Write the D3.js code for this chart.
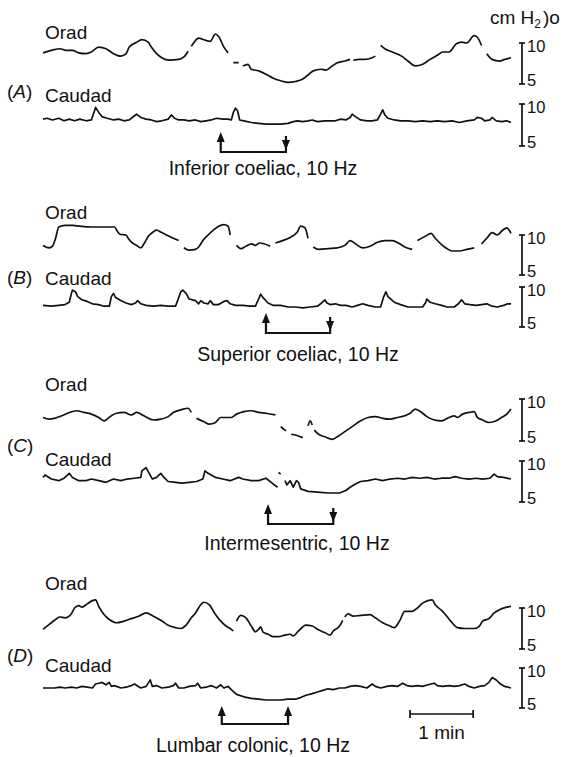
<!DOCTYPE html>
<html>
<head>
<meta charset="utf-8">
<script src="https://cdn.jsdelivr.net/npm/d3@7/dist/d3.min.js"></script>
<style>
body { margin: 0; background: #fff; }
svg text { font-family: "Liberation Sans", Arial, sans-serif; fill: #111; }
</style>
</head>
<body>
<script>
// time in s, pressure in cm H2O; null = pen gap
var aOrad = [[0,8.8],[8,9.1],[16,9.3],[22,9.1],[28,9.1],[34,8.8],[41,8.7],[46,8.9],[53,9.5],[60,9.3],[67,8.7],[74,8.4],[79,8.7],[82,9.5],[89,10.1],[94,10.4],[100,10.1],[103,9.5],[108,8.7],[113,8.2],[120,7.9],[129,8.0],[134,8.3],[138,9.0],null,[141,9.6],[145,10.3],[148,10.6],[153,10.4],[159,10.2],[164,11.1],[167,10.8],[172,9.5],[176,8.8],null,[181,7.6],[186,7.6],null,[190,7.2],[195,7.4],[198,6.8],[205,6.6],[212,6.2],[219,5.7],[226,5.4],[233,5.2],[240,5.3],[247,5.6],[252,6.1],[257,6.6],[264,6.8],[269,6.7],[275,7.2],[280,7.6],[287,7.8],[292,8.0],null,[295,7.9],[301,8.0],[306,8.0],[313,8.2],[316,8.4],null,[321,9.7],[325,9.3],[332,8.9],[341,8.4],[347,7.8],[354,7.2],[361,7.4],[368,8.0],[375,8.5],[380,8.9],[386,8.9],[393,9.9],[398,10.1],[403,10.0],[410,10.9],[413,10.7],[417,9.7],null,[422,8.7],[427,8.0],[434,7.8],[439,8.0],[445,8.2]];
var aCaudad = [[0,8.2],[4,8.3],[9,8.1],[15,8.3],[20,8.0],[25,8.2],[30,8.0],[35,8.2],[41,8.0],[46,8.1],[49,9.2],[50,9.6],[53,9.0],[56,8.5],[61,8.3],[67,8.1],[72,8.2],[77,8.0],[82,8.1],[87,8.6],[89,8.8],[93,8.4],[98,8.2],[103,8.1],[108,7.9],[113,8.0],[119,8.2],[122,8.7],[125,8.3],[129,8.1],[134,8.1],[139,8.0],[145,8.1],[150,7.9],[155,8.0],[160,8.1],[165,8.3],[171,8.2],[176,8.2],[179,8.1],[181,9.0],[183,9.5],[185,9.2],[187,8.1],[191,8.0],[198,7.8],[205,7.7],[212,7.6],[219,7.6],[226,7.6],[233,7.7],[238,7.9],[242,8.0],[247,7.9],[252,8.0],[256,8.1],[261,7.9],[268,8.0],[273,8.0],[278,8.0],[283,8.2],[288,8.1],[292,8.4],[294,8.8],[297,8.5],[302,8.1],[308,8.0],[313,8.0],[318,8.1],[321,8.8],[323,9.3],[325,8.7],[328,8.3],[334,8.1],[340,8.0],[347,8.0],[354,7.9],[361,8.0],[368,7.9],[375,8.0],[382,7.9],[389,8.0],[396,7.8],[403,8.0],[410,8.1],[413,8.4],[417,8.3],[420,8.0],[425,8.1],[427,8.4],[431,8.0],[436,7.9],[441,8.0],[445,7.8]];
var bOrad = [[0,8.7],[6,8.4],[9,8.6],[12,9.6],[15,11.0],[21,11.2],[28,11.2],[35,11.1],[46,11.0],[56,11.0],[63,11.0],[68,11.0],[71,10.4],[73,10.1],[79,10.0],[81,9.6],[84,9.1],[89,8.7],[93,8.4],[96,8.9],[100,9.8],[105,10.4],[108,10.6],[113,10.3],[119,9.9],[124,9.6],[129,9.3],null,[134,8.4],[139,8.1],[145,8.2],[148,8.5],[152,9.3],[157,10.0],[162,10.6],[167,11.1],[172,11.3],[176,11.1],[178,10.0],null,[184,8.7],[188,8.3],[193,8.6],[198,8.9],[202,8.7],[206,9.0],[210,8.9],[216,8.6],null,[221,9.0],[228,9.3],[235,9.7],[242,10.4],[245,11.1],[249,10.9],[252,9.6],null,[257,8.5],[262,8.2],[271,8.3],[280,8.4],[287,8.7],[292,9.3],[297,8.9],[304,8.4],[311,8.6],[318,9.1],[325,9.3],[332,9.3],[339,8.9],[344,8.5],[351,8.2],null,[356,9.3],[363,9.8],[369,10.2],[373,9.6],[379,8.8],[384,8.3],[389,8.0],[396,8.0],[403,8.2],[410,8.4],null,[417,8.9],[422,9.6],[427,10.3],[432,10.0],[437,10.6],[441,10.9],[445,10.2]];
var bCaudad = [[0,7.7],[8,7.6],[15,7.7],[21,7.8],[25,8.1],[27,9.2],[28,9.6],[31,9.4],[33,8.8],[37,8.4],[42,8.2],[47,7.9],[53,7.8],[58,7.6],[63,7.6],[65,8.8],[67,9.2],[69,8.7],[74,8.3],[79,8.0],[84,7.8],[88,8.0],[90,8.3],[93,7.9],[98,7.7],[105,7.6],[112,7.7],[119,7.6],[126,7.6],[128,8.3],[131,9.4],[133,9.6],[136,9.2],[139,8.5],[145,8.3],[148,7.9],[150,8.3],[153,8.0],[157,7.9],[159,8.3],[162,7.8],[167,7.8],[172,8.2],[175,8.3],[178,7.9],[183,7.7],[190,7.7],[197,7.6],[202,7.6],[205,8.5],[207,9.1],[209,8.7],[214,8.0],[219,7.7],[226,7.7],[233,7.5],[240,7.5],[247,7.4],[254,7.5],[261,7.6],[264,7.9],[268,8.4],[270,8.0],[273,7.8],[278,7.9],[283,7.7],[288,7.7],[294,7.5],[299,7.7],[304,7.9],[309,7.7],[316,7.5],[321,7.5],[324,8.8],[326,9.4],[328,8.8],[334,8.1],[340,7.8],[347,7.5],[354,7.5],[361,7.5],[364,8.1],[365,8.5],[368,8.1],[373,7.9],[379,7.7],[384,7.5],[391,7.5],[395,7.9],[398,8.4],[401,7.9],[406,7.8],[412,7.7],[417,7.8],[422,7.9],[427,7.6],[432,7.5],[438,7.7],[442,7.9],[445,7.9]];
var cOrad = [[0,7.8],[6,7.6],[11,7.7],[18,8.0],[25,8.4],[32,8.6],[39,8.4],[46,8.2],[53,7.8],[58,7.4],[61,7.6],[65,8.0],[70,8.3],[77,8.4],[84,8.1],[89,8.4],[96,8.0],[105,7.5],[112,7.6],[119,7.9],[124,8.4],[131,8.7],[138,8.9],[141,8.4],null,[146,7.7],[153,7.3],[158,7.0],[164,7.2],[169,7.8],[174,7.8],[179,7.8],[184,8.2],[191,8.5],[198,8.6],[205,8.4],[212,8.3],[221,8.1],null,[226,6.7],[231,6.2],null,[236,5.8],[243,5.6],[247,5.4],null,[252,6.8],[254,7.4],[256,6.9],null,[258,6.3],[262,5.8],[268,5.5],[275,5.2],[281,5.6],[288,6.2],[295,6.8],[302,7.4],[309,7.8],[316,7.9],[323,7.7],[330,7.6],[337,7.8],[344,8.0],[349,8.3],[354,8.8],[360,8.4],[365,7.9],[372,7.5],[379,7.4],[386,7.8],[391,8.0],[394,7.8],[399,8.2],[405,8.4],[410,8.5],[413,7.8],[418,7.5],[424,7.2],[431,7.4],[436,7.8],[441,8.2],[445,8.8]];
var cCaudad = [[0,8.0],[2,8.3],[8,7.8],[15,7.6],[20,7.9],[25,8.5],[28,8.0],[34,7.6],[41,7.6],[46,7.8],[53,7.6],[60,7.4],[67,7.8],[74,7.6],[80,7.8],[87,7.9],[93,8.0],[94,8.8],[98,9.2],[101,8.5],[104,7.8],[108,8.0],[112,8.5],[115,8.0],[119,7.5],[126,7.4],[132,7.3],[139,7.4],[146,7.5],[152,7.8],[154,8.8],[157,8.5],[164,8.0],[171,7.8],[178,7.6],[186,8.0],[190,7.8],[198,7.6],[205,7.6],[212,7.9],[217,7.4],[223,6.8],null,[224,8.6],[226,8.4],null,[230,7.6],[232,7.1],[235,7.6],[238,6.8],[241,7.6],[243,7.4],[245,6.6],[252,6.3],[261,6.2],[271,6.1],[282,6.1],[288,6.4],[292,6.8],[297,7.2],[302,7.5],[309,7.6],[316,7.8],[323,7.6],[330,7.8],[337,7.9],[344,7.8],[351,8.0],[358,7.9],[365,8.0],[372,7.8],[379,7.9],[386,7.9],[392,8.1],[398,7.9],[405,7.8],[412,7.9],[418,7.8],[425,7.9],[429,8.4],[432,8.1],[438,8.0],[445,7.8]];
var dOrad = [[0,7.4],[6,8.0],[11,8.5],[16,8.9],[21,8.8],[27,9.3],[30,10.0],[34,10.3],[37,10.1],[42,10.5],[47,10.9],[50,11.0],[53,10.2],[58,9.2],[63,8.6],[70,8.2],[77,8.4],[84,8.7],[91,9.0],[98,9.4],[105,9.0],[112,8.5],[119,7.9],[126,7.6],[131,7.5],[136,7.9],[141,8.8],[145,9.4],[150,10.4],[153,10.7],[158,10.4],[164,9.2],[169,8.4],[174,7.8],[179,7.4],[181,7.2],null,[184,8.4],[188,9.1],[193,8.8],[198,7.8],[202,7.1],[205,7.4],[207,7.7],[209,7.1],[214,6.8],[219,6.5],[224,6.5],[230,6.7],[235,6.8],[238,6.6],[243,7.2],[250,7.9],[256,7.8],[261,7.4],[268,7.0],[273,6.7],[276,7.2],[282,7.8],[285,8.5],null,[287,8.9],[290,9.3],[295,9.0],[302,9.1],[311,9.2],[316,8.8],[323,8.2],[330,7.8],[334,7.6],[339,8.4],[344,9.6],[351,9.6],[356,10.0],[361,10.6],[366,10.9],[370,11.0],[373,10.4],[379,9.7],[384,9.0],[389,8.2],[394,7.6],[401,7.5],[410,7.5],[415,7.8],[418,8.4],[424,8.7],[429,9.4],[434,9.8],[441,10.1],[445,10.2]];
var dCaudad = [[0,7.5],[6,7.5],[11,7.5],[16,7.6],[21,7.5],[27,7.6],[32,7.5],[37,7.7],[42,7.6],[47,7.5],[50,8.0],[53,8.1],[56,8.2],[60,7.9],[63,8.2],[65,7.7],[68,7.8],[74,7.5],[79,7.6],[84,7.8],[87,8.0],[93,7.5],[98,7.7],[101,8.3],[102,8.5],[104,7.7],[108,7.8],[113,7.5],[119,7.6],[124,7.8],[126,8.1],[129,7.5],[134,7.5],[139,7.7],[145,7.8],[147,8.1],[150,7.5],[155,7.6],[160,7.8],[165,7.5],[169,7.9],[172,7.5],[176,7.7],[179,7.3],[184,6.7],[191,6.4],[198,6.2],[205,6.1],[212,6.0],[219,6.0],[226,6.0],[233,6.1],[240,6.1],[245,6.3],[250,6.6],[256,6.8],[261,7.0],[266,7.2],[271,7.4],[276,7.3],[282,7.5],[287,7.5],[292,7.7],[297,7.8],[302,7.7],[308,7.5],[313,8.0],[316,7.7],[321,7.5],[327,7.7],[332,7.8],[337,7.7],[342,8.1],[346,7.8],[351,7.7],[356,7.8],[361,7.7],[366,7.9],[372,8.1],[375,7.8],[380,7.7],[386,7.8],[391,7.7],[396,7.8],[401,8.0],[405,7.7],[410,7.5],[415,7.7],[420,7.8],[424,8.2],[427,8.8],[431,8.5],[434,8.1],[439,7.7],[445,7.5]];

var panelLetters = ['A', 'B', 'C', 'D'];
var traceNames = ['Orad', 'Caudad'];
var captions = ['Inferior coeliac, 10 Hz', 'Superior coeliac, 10 Hz', 'Intermesentric, 10 Hz', 'Lumbar colonic, 10 Hz'];
var stimOn = [169, 212, 214, 170],
    stimOff = [231, 273, 276, 233],
    offArrow = ['down', 'down', 'down', 'up'];
var barTicks = [10, 5];
var minuteBar = [349, 409];

var traces = [[aOrad, aCaudad], [bOrad, bCaudad], [cOrad, cCaudad], [dOrad, dCaudad]];

var width = 572,
    height = 757,
    barX = 522,
    x = d3.scaleLinear()
    .domain([0, 445])
    .range([43, 511]),
    // y pixel of the 10 and 5 ticks for orad / caudad, and text rows
    layout = [
        {o: [43, 84], c: [104, 146], oL: 39, lL: 98, cL: 102, aT: 132, aB: 152, capY: 175, capX: 263},
        {o: [235, 275], c: [287, 327], oL: 219, lL: 284, cL: 285, aT: 313, aB: 333, capY: 361, capX: 298},
        {o: [399, 441], c: [461, 502], oL: 391, lL: 452, cL: 466, aT: 504, aB: 524, capY: 550, capX: 297},
        {o: [608, 649], c: [668, 708], oL: 590, lL: 662, cL: 672, aT: 706, aB: 724, capY: 752, capX: 253}
    ],
    svg;

function init() {
    svg = d3.select('body')
        .append('svg')
        .attr('width', width)
        .attr('height', height);

    var unit = svg.append('text')
        .attr('x', 490)
        .attr('y', 24)
        .style('font-size', '19px');
    unit.append('tspan').text('cm H');
    unit.append('tspan').attr('dy', 4).style('font-size', '12px').text('2');
    unit.append('tspan').attr('dy', -4).attr('dx', 2).text(')o');
}

function arrowHead(g, cx, tipY, dir) {
    var h = 10, w = 4;
    var base = dir === 'up' ? tipY + h : tipY - h;
    g.append('path')
        .attr('d', 'M' + cx + ',' + tipY + 'L' + (cx - w) + ',' + base + 'L' + (cx + w) + ',' + base + 'Z')
        .attr('fill', '#111');
}

function panel(i) {
    var L = layout[i],
        g = svg.append('g');

    var line = d3.line()
        .defined(function (d) { return d !== null; })
        .x(function (d) { return x(d[0]); });

    traces[i].forEach(function (series, k) {
        var yr = k === 0 ? L.o : L.c;
        var y = d3.scaleLinear().domain([10, 5]).range(yr);
        line.y(function (d) { return y(d[1]); })
            .curve(k === 0 ? d3.curveMonotoneX : d3.curveLinear);

        g.append('path')
            .datum(series)
            .attr('d', line)
            .attr('fill', 'none')
            .attr('stroke', '#111')
            .attr('stroke-width', 1.7)
            .attr('stroke-linejoin', 'round');

        // calibration bar
        g.append('line')
            .attr('x1', barX).attr('x2', barX)
            .attr('y1', y(10)).attr('y2', y(5))
            .attr('stroke', '#111').attr('stroke-width', 1.7);
        g.selectAll(null)
            .data(barTicks)
            .enter()
            .append('line')
            .attr('x1', barX - 3).attr('x2', barX + 3)
            .attr('y1', function (d) { return y(d); })
            .attr('y2', function (d) { return y(d); })
            .attr('stroke', '#111').attr('stroke-width', 1.7);
        g.selectAll(null)
            .data(barTicks)
            .enter()
            .append('text')
            .attr('x', barX + 5)
            .attr('y', function (d) { return y(d) + (d === 10 ? 9 : 2); })
            .style('font-size', '16.5px')
            .text(function (d) { return d; });

        g.append('text')
            .attr('x', 45)
            .attr('y', k === 0 ? L.oL : L.cL)
            .style('font-size', '19px')
            .text(traceNames[k]);
    });

    var letter = g.append('text')
        .attr('x', 7)
        .attr('y', L.lL)
        .style('font-size', '19px');
    letter.append('tspan').text('(');
    letter.append('tspan').style('font-style', 'italic').text(panelLetters[i]);
    letter.append('tspan').text(')');

    // stimulus marker
    var x0 = x(stimOn[i]), x1 = x(stimOff[i]);
    g.append('path')
        .attr('d', 'M' + x0 + ',' + (L.aT + 4) + 'V' + L.aB + 'H' + x1 + 'V' + (L.aT + 4))
        .attr('fill', 'none')
        .attr('stroke', '#111')
        .attr('stroke-width', 2.2);
    arrowHead(g, x0, L.aT, 'up');
    if (offArrow[i] === 'up') {
        arrowHead(g, x1, L.aT, 'up');
    } else {
        arrowHead(g, x1, L.aB - 2, 'down');
    }

    g.append('text')
        .attr('x', L.capX)
        .attr('y', L.capY)
        .attr('text-anchor', 'middle')
        .style('font-size', '19.5px')
        .text(captions[i]);
}

function timeBar() {
    var by = 714;
    svg.append('path')
        .attr('d', 'M' + x(minuteBar[0]) + ',' + (by - 4) + 'V' + (by + 4) + 'M' + x(minuteBar[0]) + ',' + by +
            'H' + x(minuteBar[1]) + 'M' + x(minuteBar[1]) + ',' + (by - 4) + 'V' + (by + 4))
        .attr('fill', 'none')
        .attr('stroke', '#111')
        .attr('stroke-width', 1.7);
    svg.append('text')
        .attr('x', (x(minuteBar[0]) + x(minuteBar[1])) / 2)
        .attr('y', 739)
        .attr('text-anchor', 'middle')
        .style('font-size', '19px')
        .text('1 min');
}

init();
panelLetters.forEach(function (p, i) { panel(i); });
timeBar();
</script>
</body>
</html>
